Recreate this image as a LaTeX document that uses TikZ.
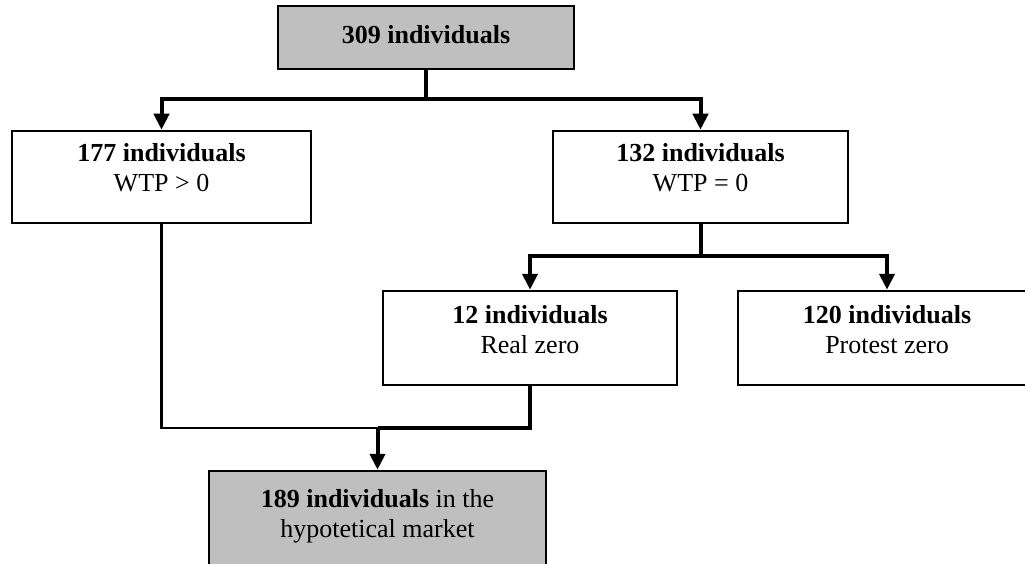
\documentclass[tikz,border=0pt]{standalone}
\usepackage{fontspec}
\setmainfont{Liberation Serif}
\usetikzlibrary{arrows.meta}

\begin{document}
\begin{tikzpicture}[x=1pt, y=-1pt,
  box/.style={draw=black, line width=2.5pt, fill=white, inner sep=0pt, align=center,
    font=\fontsize{26}{30}\selectfont, text height=61pt, text depth=31pt},
  shaded/.style={box, fill=gray!50},
  link/.style={line width=2.5pt},
  flow/.style={line width=4pt},
  flowarrow/.style={flow, -{Triangle[width=15pt, length=16pt]}}]
\useasboundingbox (0,0) rectangle (1025,564);
% boxes
\node[shaded, minimum width=296pt, minimum height=63pt, text height=18pt, text depth=6pt] (total) at (426, 37.5) {\textbf{309 individuals}};
\node[box, minimum width=299pt] (pos) at (161.5, 177) {\textbf{177 individuals}\\WTP > 0};
\node[box, minimum width=295pt] (zero) at (700.5, 177) {\textbf{132 individuals}\\WTP = 0};
\node[box, minimum width=294pt, minimum height=94pt] (real) at (530, 338) {\textbf{12 individuals}\\Real zero};
\node[box, minimum width=298pt, minimum height=94pt] (protest) at (887, 338) {\textbf{120 individuals}\\Protest zero};
\node[shaded, minimum width=337pt, text height=66pt] (market) at (377.5, 519.5) {\textbf{189 individuals} in the\\hypotetical market};
% junctions
\coordinate (j1) at (426, 99);
\coordinate (j2) at (700.5, 256);
\coordinate (j3) at (377.5, 428);
% connectors
\draw[flow] (total) -- (j1);
\draw[flowarrow] (j1) -| (pos.north);
\draw[flowarrow] (j1) -| (zero.north);
\draw[flow] (zero) -- (j2);
\draw[flowarrow] (j2) -| (real.north);
\draw[flowarrow] (j2) -| (protest.north);
\draw[link] (pos) |- (j3);
\draw[flow] (real) |- (j3);
\draw[flowarrow] (j3) -- (market);
\end{tikzpicture}
\end{document}
